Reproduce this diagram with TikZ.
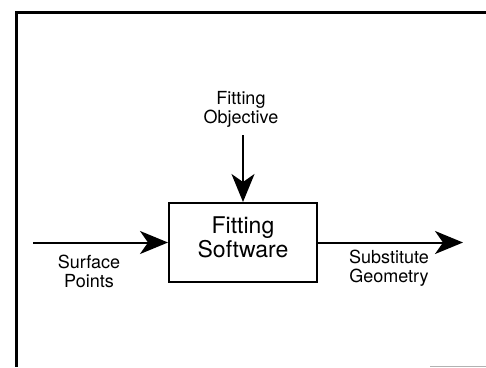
\documentclass[tikz,border=0pt]{standalone}
\usepackage{fontspec}
\setmainfont{TeX Gyre Heros}
\usetikzlibrary{arrows.meta,positioning}

\begin{document}
\begin{tikzpicture}[x=1pt,y=-1pt,
    flow/.style={-{Stealth[length=28pt,width=23pt,inset=8pt]},line width=2pt},
    flowtext/.style={align=center,font=\fontsize{18}{19}\selectfont},
    process/.style={draw,line width=2pt,align=center,
      minimum width=148pt,minimum height=79pt,text depth=10pt,
      font=\fontsize{23}{24}\selectfont}]

  % Page size of the figure
  \useasboundingbox (0,0) rectangle (486,367);

  % Frame round the figure (top and left side)
  \draw[line width=3pt] (486,12.5) -| (16.5,367);
  \draw[gray!60,line width=1pt] (430,366) -- (486,366);

  % Central box
  \node[process] (soft) at (243,242.5) {Fitting\\Software};

  % Ends of the arrows
  \coordinate (in)  at (33,242.5);
  \coordinate (out) at (463,242.5);
  \coordinate (top) at (243,135);

  % Texts
  \node[flowtext,anchor=north] (obj) at (241,88)  {Fitting\\Objective};
  \node[flowtext,anchor=north] (pts) at (89,252)  {Surface\\Points};
  \node[flowtext,anchor=north] (geo) at (389,247) {Substitute\\Geometry};

  % Arrows
  \draw[flow] (in) -- (soft.west);
  \draw[flow] (top) -- (soft.north);
  \draw[flow] (soft.east) -- (out);

\end{tikzpicture}
\end{document}
